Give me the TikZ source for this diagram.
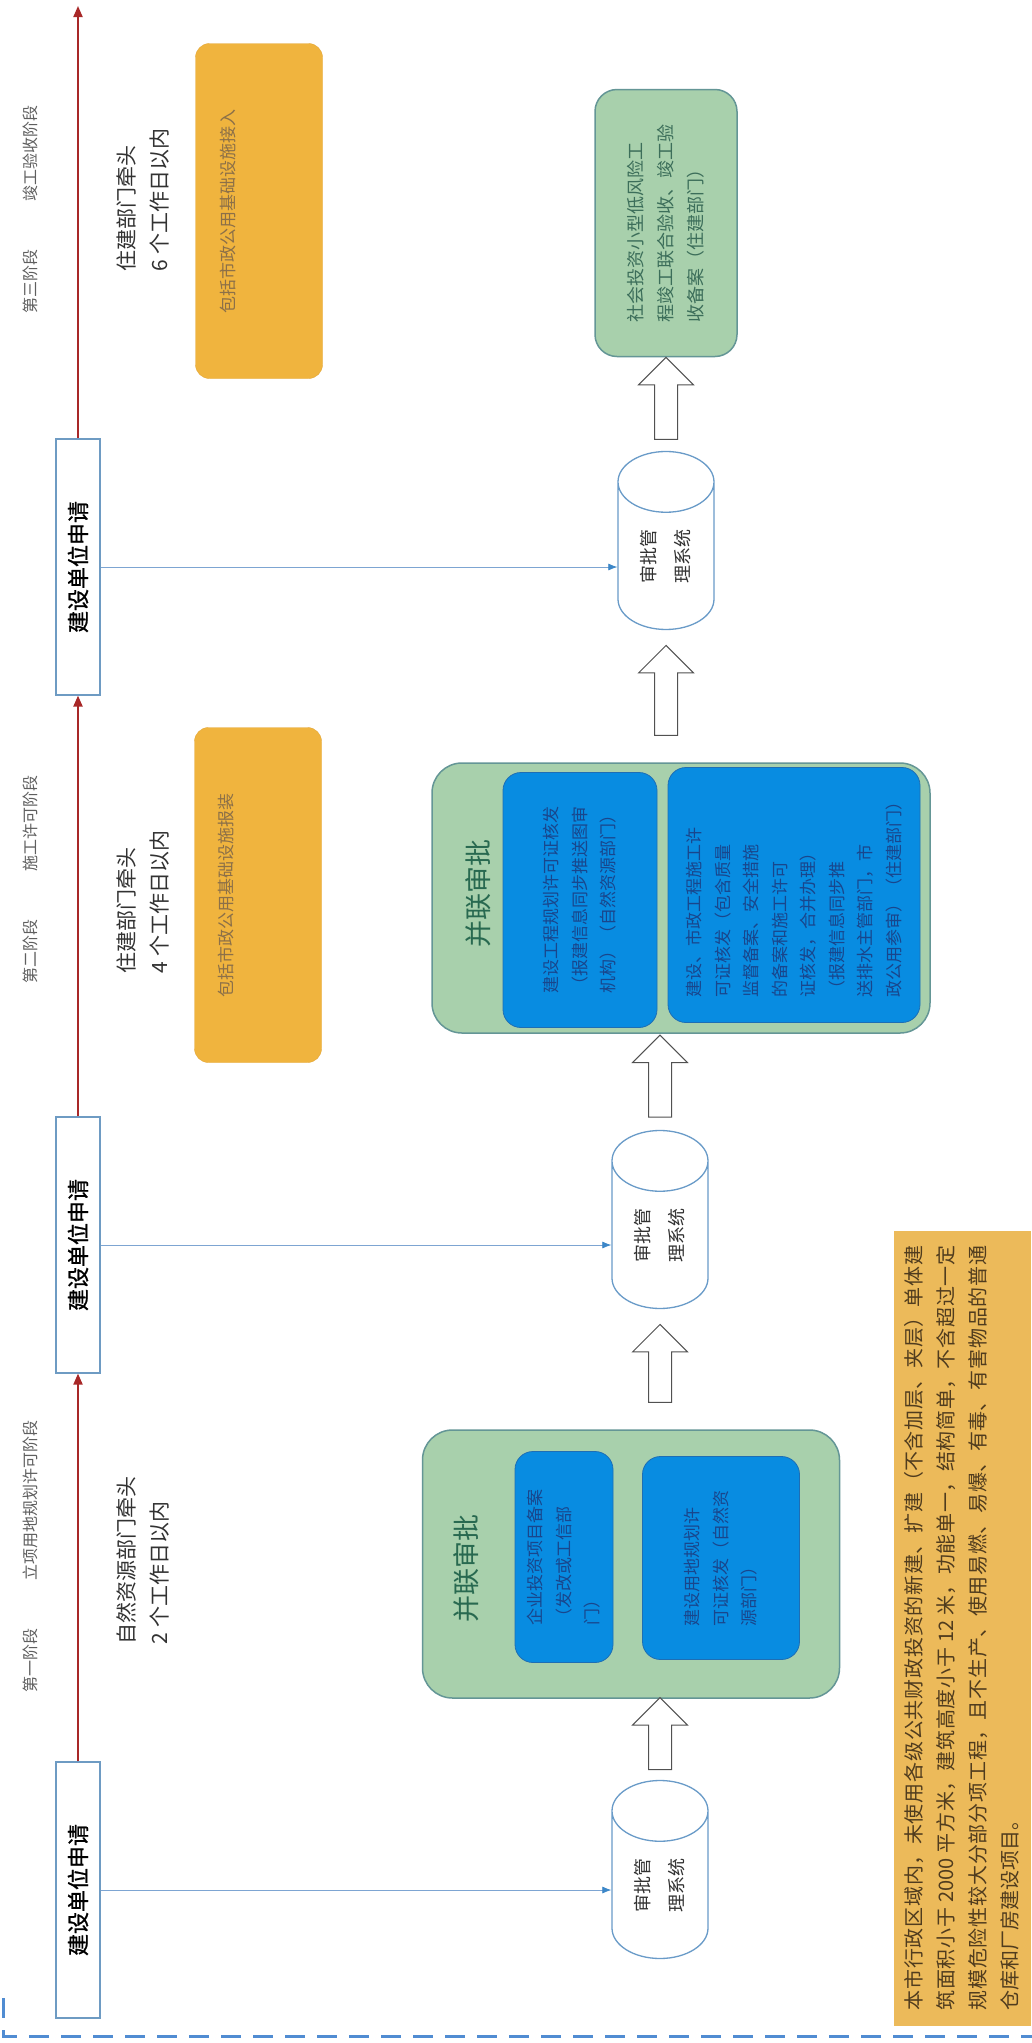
\documentclass[tikz,border=0pt]{standalone}
\usepackage{fontspec}
\setmainfont{Noto Sans CJK SC}
\newfontfamily\cjkbold[FakeBold=1]{Noto Sans CJK SC}
\XeTeXlinebreaklocale "zh"
\XeTeXlinebreakskip=0pt plus 3pt
\usepackage{tikz}
\usetikzlibrary{calc,arrows.meta,positioning,shapes.geometric,shapes.arrows}
\definecolor{flowRed}{RGB}{168,40,40}
\definecolor{flowFrame}{RGB}{110,155,195}
\definecolor{flowGray}{RGB}{95,95,95}
\definecolor{flowDark}{RGB}{50,50,50}
\definecolor{noteOrange}{RGB}{240,180,62}
\definecolor{noteOrangeEdge}{RGB}{228,168,58}
\definecolor{noteText}{RGB}{140,112,72}
\definecolor{groupGreen}{RGB}{168,208,172}
\definecolor{groupEdge}{RGB}{100,150,150}
\definecolor{groupTitle}{RGB}{40,105,80}
\definecolor{taskBlue}{RGB}{8,140,225}
\definecolor{taskEdge}{RGB}{30,110,180}
\definecolor{taskText}{RGB}{25,70,140}
\definecolor{finalText}{RGB}{60,110,90}
\definecolor{sysEdge}{RGB}{105,155,200}
\definecolor{linkBlue}{RGB}{125,165,210}
\definecolor{linkTip}{RGB}{60,135,200}
\definecolor{remarkFill}{RGB}{236,186,90}
\definecolor{remarkText}{RGB}{80,60,30}
\definecolor{frameBlue}{RGB}{80,140,210}

\begin{document}
\begin{tikzpicture}[x=1pt,y=1pt,
  stagelabel/.style={rotate=90, text=flowGray, font=\fontsize{16}{20}\selectfont},
  leadtext/.style={rotate=90, align=left, text=flowDark, font=\fontsize{21}{33}\selectfont},
  applybox/.style={rotate=90, draw=flowFrame, line width=1.2pt, fill=white,
    minimum width=256pt, minimum height=44pt, inner sep=0pt,
    font=\cjkbold\fontsize{22}{26}\selectfont},
  timeline/.style={flowRed, line width=2pt, -{Triangle[length=11pt,width=9pt]}},
  link/.style={linkBlue, line width=0.8pt, -{Latex[length=9pt,width=7pt,color=linkTip]}},
  notebox/.style={rotate=90, rounded corners=14pt, fill=noteOrange, draw=noteOrangeEdge,
    minimum width=335pt, minimum height=127pt},
  notetext/.style={rotate=90, text=noteText, font=\fontsize{17}{20}\selectfont},
  system/.style={cylinder, rotate=90, draw=sysEdge, line width=1.3pt, fill=white,
    minimum width=96pt, minimum height=178pt, aspect=1.2, inner sep=0pt,
    align=center, text=flowDark, font=\fontsize{18}{34}\selectfont},
  groupbox/.style={rotate=90, rounded corners=30pt, fill=groupGreen, draw=groupEdge, line width=1.5pt},
  grouptitle/.style={rotate=90, text=groupTitle, font=\fontsize{27}{30}\selectfont},
  taskbox/.style={rotate=90, rounded corners=18pt, fill=taskBlue, draw=taskEdge, line width=0.8pt,
    align=left, text=taskText, font=\fontsize{17}{28.5}\selectfont},
  finalbox/.style={rotate=90, rounded corners=22pt, fill=groupGreen, draw=groupEdge, line width=1.5pt,
    align=left, text=finalText, font=\fontsize{18}{30}\selectfont},
  bigarrow/.style={single arrow, rotate=90, draw=flowDark!85, line width=1pt, fill=white,
    inner xsep=0pt, inner ysep=11pt, single arrow head extend=16pt, single arrow tip angle=90},
  remark/.style={rotate=90, fill=remarkFill, minimum width=795pt, minimum height=137pt,
    text width=765pt, align=justify, text=remarkText, font=\fontsize{20}{32}\selectfont},
  frameline/.style={frameBlue, line width=3pt, dash pattern=on 20pt off 12pt}
]
\path[use as bounding box, fill=white] (0,0) rectangle (1032,-2043);

% stage labels
\node[stagelabel] (stage1) at (30,-1556) {第一阶段\hspace{3em}立项用地规划许可阶段};
\node[stagelabel] (stage2) at (30,-879) {第二阶段\hspace{3em}施工许可阶段};
\node[stagelabel] (stage3) at (30,-209) {第三阶段\hspace{3em}竣工验收阶段};

% applicant boxes and the time line
\node[applybox] (apply1) at (78,-1890) {建设单位申请};
\node[applybox] (apply2) at (78,-1245) {建设单位申请};
\node[applybox] (apply3) at (78,-567) {建设单位申请};
\coordinate (lineEnd) at (78,-6);
\draw[timeline] (apply1.east) -- (apply2.west);
\draw[timeline] (apply2.east) -- (apply3.west);
\draw[timeline] (apply3.east) -- (lineEnd);

% lead departments
\node[leadtext] (lead1) at (143,-1560) {自然资源部门牵头\\2 个工作日以内};
\node[leadtext] (lead2) at (143,-902) {住建部门牵头\\4 个工作日以内};
\node[leadtext] (lead3) at (143,-200) {住建部门牵头\\6 个工作日以内};

% orange notes
\node[notebox] (note2) at (258,-895) {};
\node[notetext] (noteText2) at (226,-895) {包括市政公用基础设施报装};
\node[notebox] (note3) at (259,-211) {};
\node[notetext] (noteText3) at (228,-211) {包括市政公用基础设施接入};

% approval systems
\node[system] (sys1) at (660,-1885) {审批管\\理系统};
\node[system] (sys2) at (660,-1235) {审批管\\理系统};
\node[system] (sys3) at (666,-556) {审批管\\理系统};
\draw[link] (apply1.south) -- (apply1.south -| sys1.north);
\draw[link] (apply2.south) -- (apply2.south -| sys2.north);
\draw[link] (apply3.south) -- (apply3.south -| sys3.north);

% parallel approval, stage one
\node[groupbox, minimum width=268pt, minimum height=417pt] (group1) at (631,-1564) {};
\node[grouptitle] (title1) at (466,-1568) {并联审批};
\node[taskbox, minimum width=211pt, minimum height=98pt] (task1a) at (564,-1557)
  {企业投资项目备案\\（发改或工信部\\门）};
\node[taskbox, minimum width=203pt, minimum height=157pt] (task1b) at (721,-1558)
  {建设用地规划许\\可证核发（自然资\\源部门）};

% parallel approval, stage two
\node[groupbox, minimum width=270pt, minimum height=498pt] (group2) at (681,-898) {};
\node[grouptitle] (title2) at (478,-893) {并联审批};
\node[taskbox, minimum width=255pt, minimum height=154pt] (task2a) at (580,-900)
  {建设工程规划许可证核发\\（报建信息同步推送图审\\机构）（自然资源部门）};
\node[taskbox, minimum width=255pt, minimum height=252pt] (task2b) at (794,-895)
  {建设、市政工程施工许\\可证核发（包含质量\\监督备案、安全措施\\的备案和施工许可\\证核发，合并办理）\\（报建信息同步推\\送排水主管部门，市\\政公用参审）（住建部门）};

% stage three
\node[finalbox, minimum width=267pt, minimum height=142pt] (group3) at (666,-223)
  {社会投资小型低风险工\\程竣工联合验收、竣工验\\收备案（住建部门）};

% flow between systems and approvals
\node[bigarrow, minimum height=72pt] (up1) at ($(sys1.east)!.5!(sys1.east |- group1.west)$) {};
\node[bigarrow, minimum height=78pt] (up2) at ($(sys2.west)!.5!(sys2.west |- group1.east)$) {};
\node[bigarrow, minimum height=82pt] (up3) at ($(sys2.east)!.5!(sys2.east |- group2.west)$) {};
\node[bigarrow, minimum height=90pt] (up4) at ($(sys3.west)!.5!(sys3.west |- group2.east)$) {};
\node[bigarrow, minimum height=82pt] (up5) at ($(sys3.east)!.5!(sys3.east |- group3.west)$) {};

% scope of the projects
\node[remark] (scope) at (962,-1628)
  {本市行政区域内，未使用各级公共财政投资的新建、扩建（不含加层、夹层）单体建\linebreak
   筑面积小于 2000 平方米，建筑高度小于 12 米，功能单一，结构简单，不含超过一定\linebreak
   规模危险性较大分部分项工程，且不生产、使用易燃、易爆、有毒、有害物品的普通\linebreak
   仓库和厂房建设项目。};

\draw[frameline] (3,-1998) -- (3,-2036) -- (1032,-2036);
\end{tikzpicture}
\end{document}
